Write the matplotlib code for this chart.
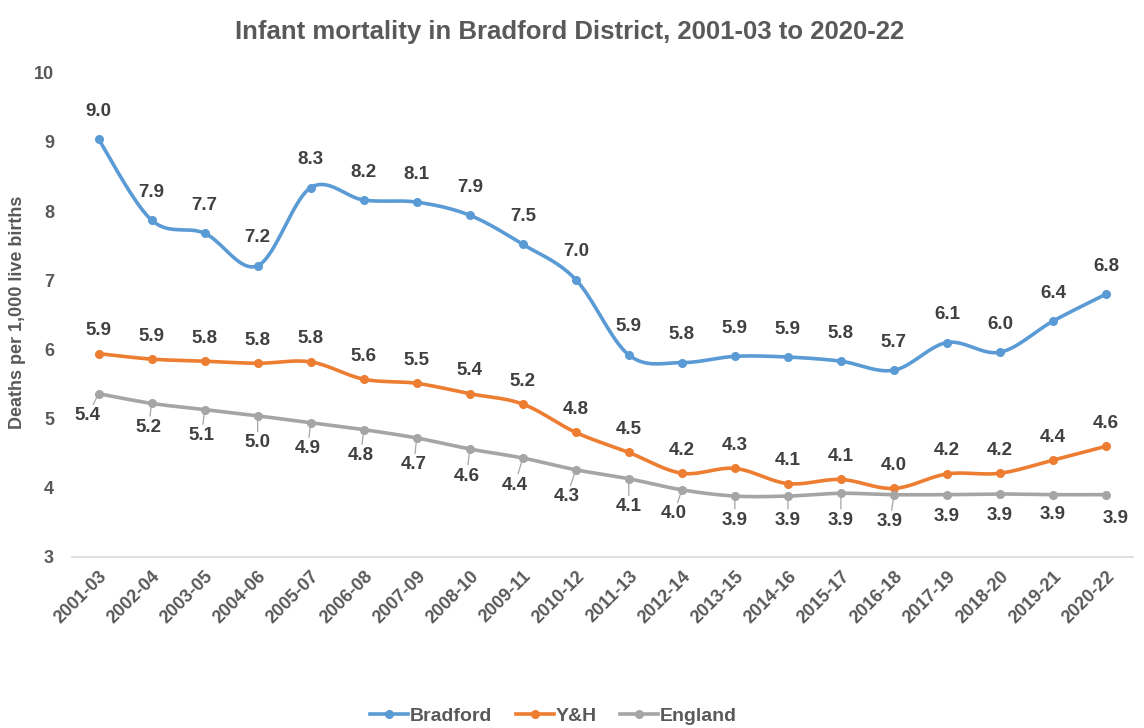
import numpy as np
import matplotlib.pyplot as plt

periods = ["2001-03", "2002-04", "2003-05", "2004-06", "2005-07", "2006-08",
           "2007-09", "2008-10", "2009-11", "2010-12", "2011-13", "2012-14",
           "2013-15", "2014-16", "2015-17", "2016-18", "2017-19", "2018-20",
           "2019-21", "2020-22"]

bradford = [9.04, 7.87, 7.68, 7.21, 8.34, 8.16, 8.13, 7.94, 7.52, 7.01,
            5.92, 5.81, 5.90, 5.89, 5.83, 5.70, 6.10, 5.96, 6.41, 6.80]
yh = [5.94, 5.86, 5.83, 5.80, 5.82, 5.57, 5.51, 5.36, 5.21, 4.80,
      4.51, 4.21, 4.28, 4.06, 4.12, 3.99, 4.20, 4.21, 4.40, 4.60]
england = [5.36, 5.22, 5.13, 5.04, 4.94, 4.84, 4.72, 4.56, 4.43, 4.26,
           4.13, 3.97, 3.88, 3.88, 3.92, 3.90, 3.90, 3.91, 3.90, 3.90]

BLUE = "#5B9BD5"
ORANGE = "#ED7D31"
GREY = "#A5A5A5"
TEXT = "#595959"
LABEL = "#404040"

plt.rcParams["font.family"] = ["Liberation Sans", "DejaVu Sans"]
plt.rcParams["font.weight"] = "bold"


def smooth(x, y, n=20):
    # catmull-rom curve through the points, like Excel's smoothed line
    x = np.asarray(x, float)
    y = np.asarray(y, float)
    px = np.concatenate([[x[0]], x, [x[-1]]])
    py = np.concatenate([[y[0]], y, [y[-1]]])
    xs, ys = [], []
    t = np.linspace(0, 1, n, endpoint=False)
    for i in range(1, len(px) - 2):
        for p, out in ((px, xs), (py, ys)):
            p0, p1, p2, p3 = p[i - 1], p[i], p[i + 1], p[i + 2]
            c1 = p1 + (p2 - p0) / 6
            c2 = p2 - (p3 - p1) / 6
            out.extend((1 - t) ** 3 * p1 + 3 * (1 - t) ** 2 * t * c1
                       + 3 * (1 - t) * t ** 2 * c2 + t ** 3 * p2)
    xs.append(x[-1])
    ys.append(y[-1])
    return np.array(xs), np.array(ys)


fig = plt.figure(figsize=(11.44, 7.28), dpi=100)
ax = fig.add_axes([0.063, 0.235, 0.927, 0.665])

x = np.arange(len(periods))
series = [("Bradford", bradford, BLUE), ("Y&H", yh, ORANGE), ("England", england, GREY)]
for name, vals, col in series:
    sx, sy = smooth(x, vals)
    ax.plot(sx, sy, color=col, lw=2.6, solid_capstyle="round")
    ax.plot(x, vals, "o", color=col, ms=5.5)
    ax.plot([], [], color=col, lw=2.6, marker="o", ms=5.5, label=name)

for i, v in enumerate(bradford):
    ax.annotate(f"{v:.1f}", (i, v), xytext=(0, 28), textcoords="offset pixels",
                ha="center", va="center", fontsize=13.5, fontweight="bold", color=LABEL)
for i, v in enumerate(yh):
    ax.annotate(f"{v:.1f}", (i, v), xytext=(0, 23), textcoords="offset pixels",
                ha="center", va="center", fontsize=13.5, fontweight="bold", color=LABEL)

# England labels sit below, most with a short leader line
eng_dx = [-11, -3, -3, 0, -3, -3, -3, -3, -8, -9, 0, -8, 0, 0, 0, -4, 0, 0, 0, 10]
eng_dy = [-22, -24, -26, -27, -26, -26, -27, -27, -27, -27, -28, -24, -24, -24, -27, -27, -22, -22, -20, -24]
for i, v in enumerate(england):
    lead = i < 16
    ax.annotate(f"{v:.1f}", (i, v), xytext=(eng_dx[i], eng_dy[i]), textcoords="offset pixels",
                ha="center", va="center", fontsize=13.5, fontweight="bold", color=LABEL,
                arrowprops=dict(arrowstyle="-", color=GREY, lw=0.9, shrinkA=0, shrinkB=3) if lead else None)

ax.set_xlim(-0.5, len(periods) - 0.5)
ax.set_ylim(3, 10)
ax.set_yticks(range(3, 11))
ax.set_xticks(x)
ax.set_xticklabels(periods, rotation=45, ha="right", rotation_mode="anchor", fontweight="bold")
for lbl in ax.get_yticklabels():
    lbl.set_fontweight("bold")
for spine in ["top", "right", "left"]:
    ax.spines[spine].set_visible(False)
ax.spines["bottom"].set_color("#D9D9D9")
ax.spines["bottom"].set_linewidth(1.2)
ax.tick_params(axis="both", length=0, colors=TEXT, labelsize=13)
ax.tick_params(axis="x", pad=8)
ax.tick_params(axis="y", pad=13)

fig.text(0.015, 0.571, "Deaths per 1,000 live births", rotation=90, ha="center", va="center",
         color=TEXT, fontsize=13, fontweight="bold")

fig.suptitle("Infant mortality in Bradford District, 2001-03 to 2020-22",
             x=0.498, y=0.972, fontsize=18.5, color=TEXT, fontweight="bold")

fig.legend(loc="center", bbox_to_anchor=(0.484, 0.016), ncol=3, frameon=False,
           prop={"size": 14, "weight": "bold"}, labelcolor=TEXT, handlelength=1.95,
           handletextpad=0.1, columnspacing=1.2)

plt.savefig("out.png", dpi=100)
